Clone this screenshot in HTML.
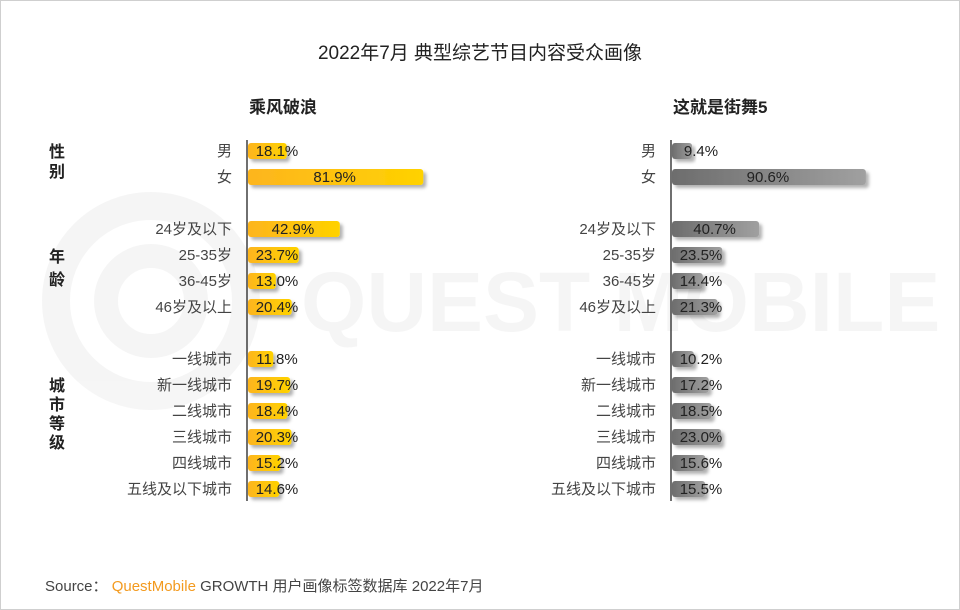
<!DOCTYPE html>
<html><head><meta charset="utf-8"><style>
body{margin:0;background:#fff;font-family:"Liberation Sans","Noto Sans CJK SC",sans-serif;}
#c{position:relative;width:958px;height:608px;border:1px solid #cfcfcf;overflow:hidden;}
</style></head><body>
<div id="c">
<svg id="s" width="958" height="608" xmlns="http://www.w3.org/2000/svg">
<defs>
<linearGradient id="gy" x1="0" x2="1"><stop offset="0" stop-color="#fdb51e"/><stop offset="1" stop-color="#ffd200"/></linearGradient>
<linearGradient id="gg" x1="0" x2="1"><stop offset="0" stop-color="#6d6d6d"/><stop offset="1" stop-color="#a0a0a0"/></linearGradient>
<filter id="sh" x="-10%" y="-30%" width="130%" height="180%"><feDropShadow dx="3" dy="3" stdDeviation="1.5" flood-color="#000" flood-opacity="0.3"/></filter>
</defs>
<g opacity="0.035">
<circle cx="150" cy="300" r="95" fill="none" stroke="#000" stroke-width="28"/>
<circle cx="150" cy="300" r="45" fill="none" stroke="#000" stroke-width="24"/>
<text x="300" y="330" font-size="84" font-weight="bold" fill="#000">QUEST MOBILE</text>
</g>
<text x="479" y="58" text-anchor="middle" font-size="19" fill="#222">2022年7月 典型综艺节目内容受众画像</text>
<g id="g"></g>
<text x="44" y="590" font-size="15" fill="#444">Source：<tspan fill="#f39a1e"> QuestMobile</tspan> GROWTH 用户画像标签数据库 2022年7月</text>
</svg>
</div>
<script>
const categories=["男","女","24岁及以下","25-35岁","36-45岁","46岁及以上","一线城市","新一线城市","二线城市","三线城市","四线城市","五线及以下城市"];
const rowY=[150,176,228,254,280,306,358,384,410,436,462,488];
const seriesA=[18.1,81.9,42.9,23.7,13.0,20.4,11.8,19.7,18.4,20.3,15.2,14.6];
const seriesB=[9.4,90.6,40.7,23.5,14.4,21.3,10.2,17.2,18.5,23.0,15.6,15.5];
const panels=[{name:"乘风破浪",x0:246,vals:seriesA,fill:"url(#gy)",key:"a"},{name:"这就是街舞5",x0:670,vals:seriesB,fill:"url(#gg)",key:"b"}];
const groups=[{t:"性别",y:[150,170]},{t:"年龄",y:[255,278]},{t:"城市等级",y:[384,403,422,441]}];
const NS="http://www.w3.org/2000/svg";const g=document.getElementById('g');
function el(t,a,txt){const e=document.createElementNS(NS,t);for(const k in a)e.setAttribute(k,a[k]);if(txt!==undefined)e.textContent=txt;g.appendChild(e);return e;}
const xs=v=>v*2.14;
groups.forEach(gr=>{[...gr.t].forEach((ch,i)=>{const e=el('text',{x:56,y:gr.y[i]+6,'text-anchor':'middle','font-size':16,'font-weight':'bold',fill:'#222'},ch);

});});
panels.forEach(p=>{
const t=el('text',{x:p.x0+2,y:112,'font-size':17,'font-weight':'bold',fill:'#222'},p.name);


const ax=el('line',{x1:p.x0,x2:p.x0,y1:139,y2:500,stroke:'#222','stroke-width':1.3});


categories.forEach((c,i)=>{const y=rowY[i],v=p.vals[i],w=xs(v);
const l=el('text',{x:p.x0-15,y:y+5,'text-anchor':'end','font-size':15,fill:'#444'},c);


const r=el('rect',{x:p.x0+1,y:y-8,width:w,height:16,rx:3,fill:p.fill,filter:'url(#sh)'});


const cx=Math.max(p.x0+w/2,p.x0+30);
const vt=el('text',{x:cx,y:y+5,'text-anchor':'middle','font-size':15,fill:'#222'},v.toFixed(1)+'%');


});});
</script>
</body></html>
